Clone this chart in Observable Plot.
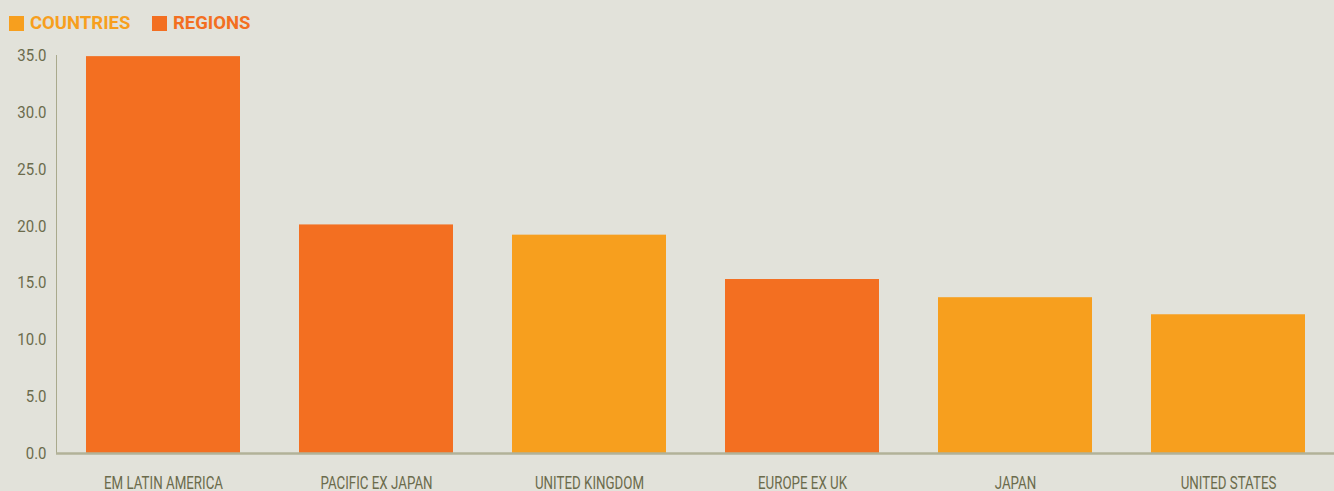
<!DOCTYPE html>
<html>
<head>
<meta charset="utf-8">
<script src="https://cdn.jsdelivr.net/npm/d3@7"></script>
<script src="https://cdn.jsdelivr.net/npm/@observablehq/plot@0.6"></script>
<style>
  html, body { margin: 0; padding: 0; background: #e2e2da; overflow: hidden; }
  body { width: 1334px; height: 491px; font-family: Roboto, sans-serif; }
  #legend { height: 40px; position: relative; }
  .item { position: absolute; top: 12px; display: flex; align-items: center; font-weight: bold; font-size: 18.5px; white-space: nowrap; }
  .sw { width: 15px; height: 15px; margin-right: 6px; flex: none; }
  .lbl { display: inline-block; }
  #chart svg { display: block; }
</style>
</head>
<body>
<div id="legend"></div>
<div id="chart"></div>
<script>
const categories = ["EM LATIN AMERICA", "PACIFIC EX JAPAN", "UNITED KINGDOM", "EUROPE EX UK", "JAPAN", "UNITED STATES"];
const values = [34.9, 20.1, 19.2, 15.3, 13.7, 12.2];
const groups = ["REGIONS", "REGIONS", "COUNTRIES", "REGIONS", "COUNTRIES", "COUNTRIES"];
const legendNames = ["COUNTRIES", "REGIONS"];
const legendColors = ["#f79f1e", "#f36f21"];
const yTicks = [0, 5, 10, 15, 20, 25, 30, 35];

const data = categories.map((c, i) => ({category: c, value: values[i], group: groups[i]}));

// Legend
const legend = document.getElementById("legend");
const lefts = [9, 152];
legendNames.forEach((n, i) => {
  const el = document.createElement("div");
  el.className = "item";
  el.style.left = lefts[i] + "px";
  el.style.color = legendColors[i];
  el.innerHTML = `<div class="sw" style="background:${legendColors[i]}"></div><span class="lbl">${n}</span>`;
  legend.appendChild(el);
});

const chart = Plot.plot({
  width: 1334,
  height: 451,
  marginLeft: 56,
  marginRight: 0,
  marginTop: 15,
  marginBottom: 38,
  style: {background: "transparent", fontFamily: "Roboto, sans-serif", color: "#6b6b4c"},
  x: {domain: categories, paddingInner: 0.277, paddingOuter: 0.1385, label: null},
  y: {domain: [0, 35], label: null},
  color: {domain: legendNames, range: legendColors},
  marks: [
    Plot.barY(data, {x: "category", y: "value", fill: "group"}),
    Plot.frame({anchor: "left", stroke: "#a9a98c", strokeWidth: 1}),
    Plot.ruleY([0], {stroke: "#b2b298", strokeWidth: 2.5}),
    Plot.axisY({ticks: yTicks, tickFormat: d => d.toFixed(1), tickSize: 0, tickPadding: 10, fontSize: 17, label: null}),
    Plot.axisX({tickSize: 0, tickPadding: 22, fontSize: 18.5, label: null})
  ]
});
document.getElementById("chart").appendChild(chart);

// condense the axis lettering horizontally (the reference uses a condensed face)
function condense(sel, k) {
  chart.querySelectorAll(sel).forEach(t => {
    const tr = t.getAttribute("transform") || "";
    t.setAttribute("transform", tr + ` scale(${k},1)`);
  });
}
condense('g[aria-label="x-axis tick label"] text', 0.72);
condense('g[aria-label="y-axis tick label"] text', 0.88);
</script>
</body>
</html>
